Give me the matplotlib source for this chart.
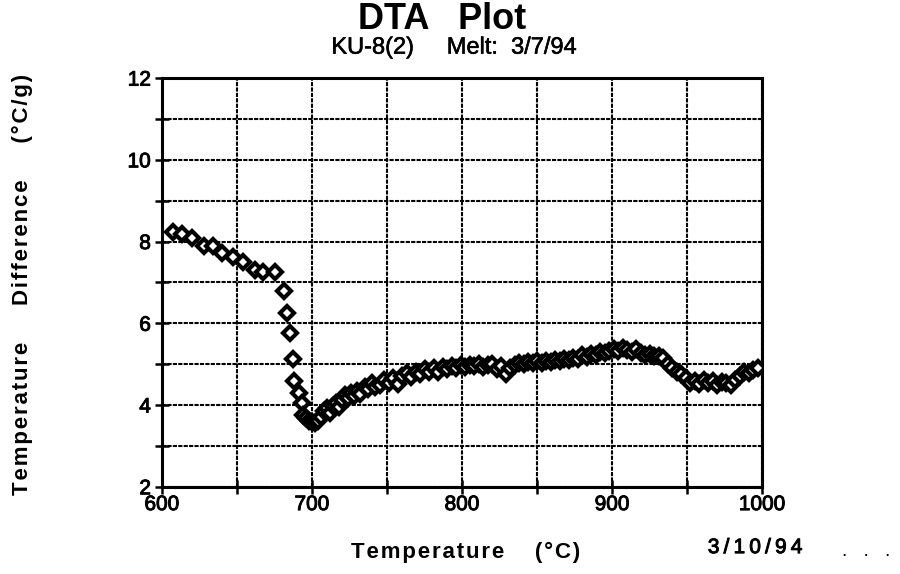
import matplotlib.pyplot as plt
import matplotlib.patheffects as pe
from matplotlib.ticker import MultipleLocator

plt.rcParams['font.family'] = ['Liberation Sans', 'DejaVu Sans']

# ---------- Data ----------
temp = [607, 613, 620, 628, 634, 640, 647, 654, 662, 667, 675,
        681, 683, 685, 687, 688, 691, 693,
        694, 696, 698, 700, 702, 704, 706, 708, 710, 712, 714, 716, 718,
        720, 722, 724, 726, 728, 730, 732, 735, 737, 740, 742, 745, 748,
        751, 754, 757, 760, 763, 766, 769, 772, 775, 778, 781, 784, 787,
        790, 793, 796, 799, 802, 805, 808, 811, 814, 817, 820, 823, 826,
        829, 832, 835, 838, 841, 844, 847, 850, 853, 856, 859, 862, 865,
        868, 871, 874, 877, 880, 883, 886, 889, 892, 895, 898, 901, 904,
        907, 910, 913, 916, 919, 922, 925, 928, 931, 934, 937, 940, 943,
        946, 949, 952, 955, 958, 961, 964, 967, 970, 973, 976, 979, 982,
        985, 988, 991, 994, 997]
diff = [8.23, 8.19, 8.09, 7.89, 7.90, 7.72, 7.62, 7.50, 7.31, 7.26, 7.26,
        6.80, 6.25, 5.77, 5.12, 4.58, 4.30, 4.05,
        3.75, 3.68, 3.60, 3.58, 3.55, 3.62, 3.70, 3.85, 3.93, 3.80, 3.98, 4.05, 3.96,
        4.12, 4.25, 4.17, 4.30, 4.22, 4.35, 4.28, 4.45, 4.40, 4.55, 4.45, 4.50, 4.62,
        4.55, 4.65, 4.52, 4.72, 4.78, 4.68, 4.80, 4.75, 4.88, 4.82, 4.90, 4.80, 4.92,
        4.88, 4.95, 4.90, 4.98, 4.92, 4.98, 4.95, 5.00, 4.92, 4.97, 5.00, 4.88, 4.95,
        4.75, 4.90, 4.98, 5.03, 5.00, 5.05, 5.02, 5.08, 5.03, 5.08, 5.05, 5.10, 5.07,
        5.12, 5.10, 5.15, 5.12, 5.22, 5.18, 5.26, 5.22, 5.30, 5.27, 5.32, 5.36, 5.32,
        5.40, 5.35, 5.30, 5.37, 5.28, 5.22, 5.25, 5.20, 5.20, 5.15, 5.00, 4.90, 4.80,
        4.75, 4.65, 4.55, 4.58, 4.52, 4.60, 4.55, 4.58, 4.50, 4.56, 4.53, 4.50, 4.62,
        4.72, 4.80, 4.78, 4.86, 4.90]


def spaced(s, gap="\u200a"):
    # spread the letters a little, like the original typesetting
    return gap.join(s)


thick = [pe.withStroke(linewidth=0.7, foreground="black")]

# ---------- Figure ----------
fig = plt.figure(figsize=(9, 5.74), dpi=100)
ax = fig.add_axes([0.18, 0.152, 0.667, 0.712])

ax.plot(temp, diff, linestyle="none", marker="D", markersize=7,
        markerfacecolor="white", markeredgecolor="black", markeredgewidth=3,
        zorder=3)

ax.set_xlim(600, 1000)
ax.set_ylim(2, 12)
ax.xaxis.set_major_locator(MultipleLocator(100))
ax.xaxis.set_minor_locator(MultipleLocator(50))
ax.yaxis.set_major_locator(MultipleLocator(2))
ax.yaxis.set_minor_locator(MultipleLocator(1))

ax.grid(which="both", color="black", linewidth=1.5, linestyle=(0, (2, 0.6)))
for s in ax.spines.values():
    s.set_linewidth(2.2)
ax.tick_params(which="both", direction="inout", length=10, width=1.8,
               labelsize=15)
ax.tick_params(axis="x", pad=1)
ax.tick_params(axis="y", pad=3)
for lab in ax.get_xticklabels() + ax.get_yticklabels():
    lab.set_path_effects(thick)

# ---------- Text ----------
fig.text(0.491, 0.966, "DTA   Plot", ha="center", va="center",
         fontsize=26, fontweight="bold")
fig.text(0.505, 0.917, "KU-8(2)     Melt:  3/7/94", ha="center", va="center",
         fontsize=17, path_effects=[pe.withStroke(linewidth=0.4, foreground="black")])
fig.text(0.517, 0.038, spaced("Temperature") + "     " + spaced("(°C)"),
         ha="center", va="center", fontsize=16, fontweight="bold")
fig.text(0.025, 0.505,
         spaced("Temperature") + "      " + spaced("Difference") + "      "
         + spaced("(°C/g)"),
         ha="center", va="center", rotation=90, fontsize=16, fontweight="bold")
fig.text(0.839, 0.046, spaced("3/10/94", "\u2009"), ha="center", va="center",
         fontsize=15, path_effects=thick)
fig.text(0.962, 0.04, ".   .   .", ha="center", va="center", fontsize=14)

fig.savefig("out.png", dpi=100)
